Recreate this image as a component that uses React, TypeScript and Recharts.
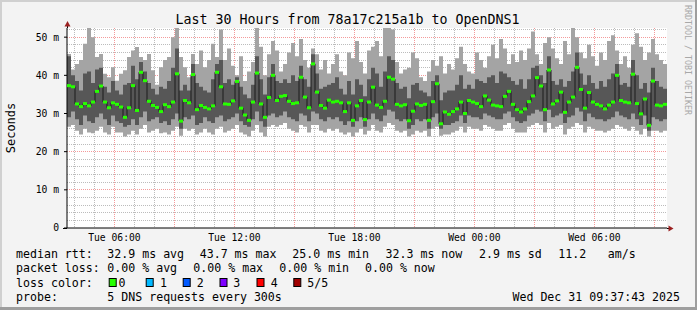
import React from "react";
import { ComposedChart, Area, Line, XAxis, YAxis, CartesianGrid } from "recharts";

// Tue 03:37:43 .. Wed 09:37:43, one sample every 12 minutes
const START_HOUR = 3 + 37 / 60 + 43 / 3600;
const STEP_HOURS = 0.2;
const END_HOUR = START_HOUR + 30;

// rtt in ms, 5 pings sorted: min, 2nd, median, 4th, max
const minRtt = [
  26.5, 27.0, 25.5, 24.5, 26.0, 25.0, 24.8, 25.5, 26.5, 25.0, 24.5, 26.5, 25.0, 25.0, 24.0, 24.5, 25.5, 24.5, 26.0, 27.0,
  25.0, 25.5, 26.0, 24.8, 25.0, 24.5, 25.5, 26.5, 24.2, 26.0, 25.5, 26.0, 24.5, 25.0, 26.0, 25.0, 24.5, 26.0,
  26.5, 25.0, 25.5, 26.0, 27.0, 25.0, 24.5, 24.0, 25.5, 27.0, 25.0, 24.0, 26.5, 27.0, 26.5, 27.0, 27.5, 26.0, 25.5, 25.0,
  27.0, 26.5, 25.0, 27.0, 27.0, 25.5, 25.0, 26.0, 25.5, 26.0, 25.0, 24.5, 25.0, 24.0, 25.0, 26.0, 24.5, 25.5,
  27.0, 25.5, 25.0, 26.5, 27.5, 27.0, 25.5, 25.0, 25.5, 24.0, 24.5, 25.5, 25.0, 25.5, 24.0, 26.0, 26.5, 24.2, 24.5, 24.5,
  25.0, 25.5, 26.5, 25.0, 26.5, 26.0, 26.0, 25.5, 27.0, 26.5, 26.0, 25.5, 25.5, 27.0, 27.5, 26.0, 25.0, 25.0,
  25.0, 26.5, 27.0, 27.5, 27.0, 25.0, 27.5, 26.0, 26.5, 27.0, 24.5, 26.0, 26.5, 27.5, 27.0, 25.0, 26.5, 26.0, 25.5, 25.5,
  25.0, 25.5, 26.0, 27.0, 26.5, 26.0, 25.5, 26.5, 25.5, 24.5, 26.0, 24.0, 25.5, 25.5, 25.0, 25.5,
];
const lowRtt = [
  29.0, 30.5, 28.5, 27.0, 29.5, 28.0, 27.5, 29.0, 30.0, 28.5, 27.0, 29.5, 28.0, 27.5, 26.5, 27.0, 28.5, 27.0, 29.0, 30.5,
  28.0, 28.5, 29.0, 27.5, 28.0, 27.0, 28.5, 30.0, 26.0, 29.0, 28.5, 29.5, 27.0, 27.5, 29.0, 28.0, 27.5, 29.0,
  29.5, 28.0, 28.5, 29.0, 30.0, 28.0, 27.0, 26.5, 28.5, 30.5, 28.0, 26.5, 29.5, 30.0, 29.0, 29.5, 30.5, 29.0, 28.5, 28.0,
  30.0, 29.5, 28.0, 30.5, 30.0, 28.5, 28.0, 29.0, 28.5, 29.0, 28.0, 27.0, 28.0, 26.5, 28.0, 29.0, 26.5, 28.5,
  30.0, 28.5, 28.0, 29.5, 31.0, 30.5, 28.5, 28.0, 28.5, 26.0, 27.0, 28.5, 28.0, 28.5, 26.0, 29.0, 30.0, 26.0, 27.0, 27.0,
  27.5, 28.0, 29.5, 27.5, 29.5, 29.0, 29.0, 28.5, 30.0, 29.5, 29.0, 28.5, 28.5, 30.0, 30.5, 29.0, 28.0, 27.5,
  28.0, 29.5, 30.0, 31.0, 30.5, 28.0, 31.0, 29.0, 29.5, 30.0, 27.5, 29.0, 29.5, 31.5, 30.5, 28.0, 30.0, 29.0, 28.5, 28.5,
  28.0, 28.5, 29.0, 30.5, 29.5, 29.0, 28.5, 30.0, 28.5, 27.0, 29.5, 25.5, 29.0, 28.5, 28.0, 28.5,
];
const medianRtt = [
  37.3, 37.0, 32.5, 31.8, 32.6, 32.0, 33.0, 35.8, 37.2, 33.0, 31.5, 32.8, 32.4, 31.7, 29.0, 31.5, 37.3, 30.8, 40.8, 38.6,
  33.2, 32.1, 31.6, 30.5, 32.3, 31.8, 33.0, 40.4, 28.0, 33.4, 32.8, 40.2, 31.0, 32.1, 31.6, 31.2, 32.0, 40.8,
  37.0, 32.5, 32.4, 33.3, 38.4, 31.4, 29.6, 28.2, 33.0, 40.6, 32.5, 29.0, 34.2, 40.0, 33.4, 34.5, 34.7, 33.2, 32.6, 32.8,
  39.5, 34.3, 31.5, 43.0, 35.6, 32.1, 31.4, 33.5, 33.0, 33.2, 32.8, 30.5, 32.8, 28.2, 32.0, 33.4, 28.4, 33.0,
  36.9, 32.2, 31.6, 33.2, 39.5, 39.0, 32.4, 32.0, 32.3, 28.1, 30.6, 32.5, 32.1, 32.4, 28.2, 33.1, 37.8, 27.3, 30.4, 29.8,
  30.5, 31.2, 33.0, 30.0, 33.4, 33.0, 32.6, 31.8, 34.6, 33.5, 32.2, 32.0, 31.8, 34.5, 35.8, 32.4, 31.0, 30.4,
  31.2, 33.1, 34.6, 39.4, 37.2, 31.0, 41.4, 32.5, 33.3, 35.6, 30.3, 33.0, 34.3, 42.1, 36.3, 31.4, 35.5, 33.0, 32.4, 32.0,
  31.2, 32.2, 33.0, 40.0, 33.4, 33.0, 32.8, 40.3, 32.6, 29.9, 33.8, 26.9, 38.5, 32.2, 32.0, 32.4,
];
const highRtt = [
  45.0, 40.0, 38.5, 36.0, 40.5, 41.0, 38.0, 41.5, 42.0, 37.0, 35.5, 38.5, 36.0, 35.0, 37.5, 38.0, 42.5, 39.0, 43.5, 41.0,
  38.0, 36.5, 35.0, 37.0, 36.5, 38.5, 42.0, 47.0, 36.0, 37.5, 36.0, 43.0, 38.0, 37.0, 36.0, 35.5, 39.0, 43.0,
  44.0, 38.0, 39.0, 37.5, 39.5, 37.0, 35.0, 34.0, 37.5, 45.0, 39.0, 35.0, 39.5, 43.0, 38.5, 38.0, 39.0, 38.0, 40.0, 38.5,
  42.5, 39.0, 37.0, 45.5, 40.5, 36.5, 37.0, 37.5, 38.0, 39.5, 36.5, 35.0, 38.5, 35.0, 39.0, 37.5, 34.5, 39.0,
  42.0, 40.5, 37.0, 41.0, 45.0, 44.0, 38.0, 36.5, 37.0, 34.0, 37.5, 38.0, 36.0, 35.5, 34.5, 38.5, 40.0, 33.5, 35.5, 36.0,
  36.0, 37.5, 40.0, 36.5, 37.5, 36.5, 39.0, 38.5, 38.0, 39.5, 40.0, 38.0, 41.0, 40.5, 39.5, 38.5, 37.5, 39.0,
  36.5, 39.0, 42.0, 42.5, 40.0, 38.0, 45.0, 38.5, 37.5, 39.0, 37.0, 38.5, 41.0, 46.0, 40.5, 37.5, 40.0, 38.0, 36.5, 38.5,
  37.0, 39.0, 40.5, 43.0, 37.5, 38.0, 37.0, 44.0, 40.0, 36.5, 38.0, 35.5, 42.0, 38.5, 37.0, 36.5,
];
const maxRtt = [
  45.6, 41.5, 43.0, 44.0, 48.3, 52.6, 50.0, 44.8, 45.6, 40.4, 39.5, 42.1, 38.6, 40.4, 41.3, 44.8, 46.5, 47.4, 44.8, 44.0,
  45.6, 41.3, 37.5, 42.1, 44.0, 44.8, 50.0, 52.6, 44.8, 42.1, 39.5, 45.6, 43.0, 46.5, 42.1, 44.0, 48.3, 44.8,
  52.0, 44.0, 47.0, 42.5, 40.0, 45.0, 38.5, 41.0, 43.5, 52.5, 47.5, 40.0, 45.5, 49.0, 46.5, 41.0, 43.0, 46.0, 48.5, 45.0,
  49.5, 44.0, 42.0, 47.0, 45.5, 41.5, 44.0, 40.5, 43.0, 45.5, 41.0, 40.0, 46.0, 44.5, 49.0, 43.5, 40.5, 46.5,
  47.5, 49.0, 45.0, 52.5, 52.6, 52.0, 43.5, 40.5, 41.5, 42.0, 46.0, 44.5, 39.5, 38.5, 41.0, 44.0, 42.5, 45.0, 40.5, 43.0,
  41.5, 44.5, 47.5, 43.0, 41.0, 40.5, 46.0, 44.0, 42.0, 45.0, 48.0, 44.5, 49.5, 47.0, 43.0, 45.5, 43.5, 46.5,
  44.0, 47.0, 51.5, 45.5, 43.0, 48.5, 50.0, 47.0, 44.5, 43.0, 49.0, 45.5, 52.5, 50.0, 46.0, 44.5, 48.0, 45.0, 42.5, 46.0,
  44.0, 49.0, 50.5, 46.5, 43.0, 45.0, 42.0, 48.0, 51.0, 47.5, 44.0, 46.0, 49.5, 45.5, 44.0, 43.0,
];

const labelHours = [6, 12, 18, 24, 30];
const labelTexts = ["Tue 06:00", "Tue 12:00", "Tue 18:00", "Wed 00:00", "Wed 06:00"];
const rttTicks = [0, 10, 20, 30, 40, 50];

const lossColors = ["#26ff00", "#00b8ff", "#0059ff", "#7e00ff", "#ff0000", "#a00000"];
const lossLabels = ["0", "1", "2", "3", "4", "5/5"];

const FONT = "'DejaVu Sans Mono', 'Liberation Mono', monospace";
const STEP_PX = 4;

const rows = medianRtt.map((m, i) => ({
  t: START_HOUR + i * STEP_HOURS,
  outer: [minRtt[i], maxRtt[i]],
  inner: [lowRtt[i], highRtt[i]],
  median: m,
  mark: true,
}));
rows.push({ ...rows[rows.length - 1], t: END_HOUR, mark: false });

// grid: every hour / 2 ms, with the 3 h / 10 ms lines in red
const minorHours: number[] = [];
const majorHours: number[] = [];
for (let h = Math.ceil(START_HOUR); h <= END_HOUR; h++) (h % 3 === 0 ? majorHours : minorHours).push(h);
const minorRtt: number[] = [];
const majorRtt: number[] = [];
for (let v = 2; v <= 52; v += 2) (v % 10 === 0 ? majorRtt : minorRtt).push(v);

const MedianMark = (props: any) => {
  const { cx, cy, payload, index } = props;
  if (!payload || !payload.mark || cx == null || cy == null) return <g key={`m${index}`} />;
  return <rect key={`m${index}`} x={cx} y={cy - 1.5} width={STEP_PX} height={3} fill="#26ff00" />;
};

const legendRow1: [number, string][] = [
  [16, "median rtt:"], [107.3, "32.9 ms avg"], [199.7, "43.7 ms max"], [292.3, "25.0 ms min"],
  [385.5, "32.3 ms now"], [479, "2.9 ms sd"], [558.3, "11.2"], [607.7, "am/s"],
];
const legendRow2: [number, string][] = [
  [16, "packet loss:"], [107.3, "0.00 % avg"], [193.3, "0.00 % max"], [279.3, "0.00 % min"], [365, "0.00 % now"],
];
const boxX = [108.7, 145.7, 182.7, 219.5, 256.5, 293.3];
const boxLabelX = [118.5, 160, 196.7, 233.3, 270.7, 307.3];

export default function App() {
  return (
    <div style={{ position: "fixed", left: 0, top: 0, width: 697, height: 310, background: "#f3f3f3", overflow: "hidden" }}>
      <ComposedChart width={697} height={310} data={rows} margin={{ top: 28, right: 30, bottom: 62, left: 7 }}>
        <CartesianGrid
          fill="#ffffff"
          fillOpacity={1}
          stroke="#bcbcbc"
          strokeDasharray="1 1"
          shapeRendering="crispEdges"
          horizontalValues={minorRtt}
          verticalValues={minorHours}
        />
        <CartesianGrid
          stroke="#f49a9a"
          strokeDasharray="1 1"
          shapeRendering="crispEdges"
          horizontalValues={majorRtt}
          verticalValues={majorHours}
        />
        <XAxis
          type="number"
          dataKey="t"
          domain={[START_HOUR, END_HOUR]}
          ticks={labelHours}
          interval={0}
          tickFormatter={(v: number) => labelTexts[labelHours.indexOf(v)] ?? ""}
          tick={{ fontSize: 9.7, fontFamily: FONT, fill: "#000" }}
          tickLine={false}
          tickSize={0}
          tickMargin={6}
          axisLine={{ stroke: "#000" }}
          height={20}
          allowDataOverflow
        />
        <YAxis
          type="number"
          domain={[0, 52.4]}
          ticks={rttTicks}
          interval={0}
          tickFormatter={(v: number) => (v === 0 ? "0" : `${v} m`)}
          tick={{ fontSize: 9.7, fontFamily: FONT, fill: "#000" }}
          tickLine={{ stroke: "#000" }}
          tickSize={3}
          tickMargin={5}
          axisLine={{ stroke: "#000" }}
          width={60}
          allowDataOverflow
        />
        <Area dataKey="outer" type="stepAfter" stroke="none" fill="#a4a4a4" fillOpacity={1} isAnimationActive={false} />
        <Area dataKey="inner" type="stepAfter" stroke="none" fill="#575757" fillOpacity={1} isAnimationActive={false} />
        <Line
          dataKey="median"
          type="stepAfter"
          stroke="#1c1c1c"
          strokeWidth={1}
          dot={MedianMark}
          activeDot={false}
          isAnimationActive={false}
        />
      </ComposedChart>

      <svg width={697} height={310} style={{ position: "absolute", left: 0, top: 0, pointerEvents: "none" }}>
        <rect x={0} y={0} width={697} height={2} fill="#d0d0d0" />
        <rect x={0} y={0} width={2} height={310} fill="#d0d0d0" />
        <rect x={0} y={307} width={697} height={3} fill="#9e9e9e" />
        <rect x={695} y={0} width={2} height={310} fill="#9e9e9e" />

        {/* axis extensions and arrows */}
        <line x1={67.5} y1={22} x2={67.5} y2={28} stroke="#000" />
        <line x1={63} y1={228.5} x2={67} y2={228.5} stroke="#000" />
        <line x1={667} y1={228.5} x2={669} y2={228.5} stroke="#000" />
        <polygon points="67.5,21 64.5,26.5 70.5,26.5" fill="#9b2020" />
        <polygon points="673.5,228.5 668.5,225.5 668.5,231.5" fill="#9b2020" />

        <text x={347.5} y={24} textAnchor="middle" fontFamily={FONT} fontSize={13.3} fill="#000">
          Last 30 Hours from 78a17c215a1b to OpenDNS1
        </text>
        <text
          x={0}
          y={0}
          transform="translate(14.5,128) rotate(-90)"
          textAnchor="middle"
          fontFamily={FONT}
          fontSize={12}
          fill="#000"
        >
          Seconds
        </text>
        <text
          x={0}
          y={0}
          transform="translate(685,5) rotate(90)"
          textAnchor="start"
          fontFamily={FONT}
          fontSize={8.3}
          fill="#a8a8a8"
        >
          RRDTOOL / TOBI OETIKER
        </text>

        <g fontFamily={FONT} fontSize={11.6} fill="#000">
          {legendRow1.map(([x, s]) => (
            <text key={`r1${x}`} x={x} y={258} xmlSpace="preserve">{s}</text>
          ))}
          {legendRow2.map(([x, s]) => (
            <text key={`r2${x}`} x={x} y={272.3} xmlSpace="preserve">{s}</text>
          ))}
          <text x={16} y={286.6}>loss color:</text>
          {lossColors.map((c, i) => (
            <g key={`lc${i}`}>
              <rect x={boxX[i] + 0.5} y={278.5} width={7} height={8} fill={c} stroke="#000" strokeWidth={1} />
              <text x={boxLabelX[i]} y={286.6}>{lossLabels[i]}</text>
            </g>
          ))}
          <text x={16} y={300.6}>probe:</text>
          <text x={107.3} y={300.6}>5 DNS requests every 300s</text>
          <text x={680} y={300.6} textAnchor="end">Wed Dec 31 09:37:43 2025</text>
        </g>
      </svg>
    </div>
  );
}
